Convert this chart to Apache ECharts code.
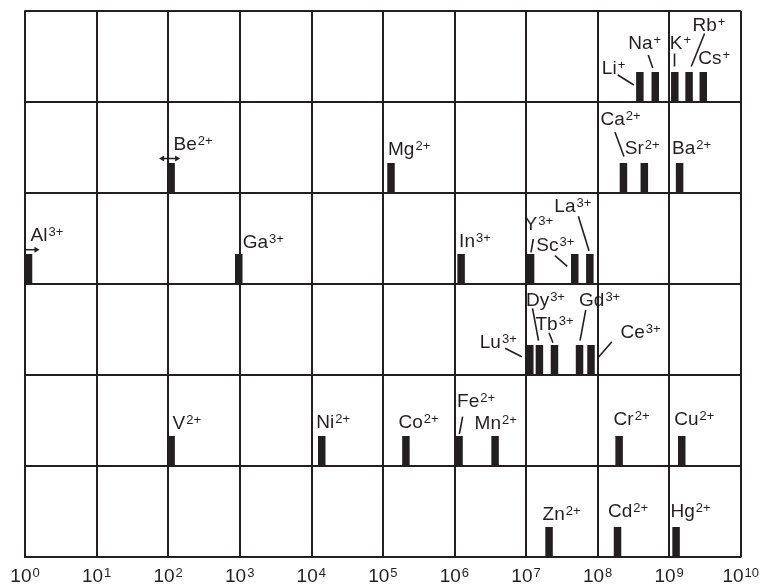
<!DOCTYPE html>
<html>
<head>
<meta charset="utf-8">
<script src="https://cdn.jsdelivr.net/npm/echarts@6/dist/echarts.min.js"></script>
<style>
html,body{margin:0;padding:0;background:#fff;}
#chart{width:762px;height:587px;}
</style>
</head>
<body>
<div id="chart"></div>
<script>
// ---- data ----
const ionNames   = ['Li','Na','K','Rb','Cs',
                    'Be','Mg','Ca','Sr','Ba',
                    'Al','Ga','In','Y','Sc','La',
                    'Lu','Dy','Tb','Gd','Ce',
                    'V','Ni','Co','Fe','Mn','Cr','Cu',
                    'Zn','Cd','Hg'];
const ionCharges = ['+','+','+','+','+',
                    '2+','2+','2+','2+','2+',
                    '3+','3+','3+','3+','3+','3+',
                    '3+','3+','3+','3+','3+',
                    '2+','2+','2+','2+','2+','2+','2+',
                    '2+','2+','2+'];
// water exchange rate constants (s^-1)
const exchangeRates = [3.9e8, 6.4e8, 1.2e9, 1.9e9, 3.0e9,
                       1.1e2, 1.3e5, 2.3e8, 4.5e8, 1.4e9,
                       1.12, 9.7e2, 1.24e6, 1.16e7, 4.8e7, 7.8e7,
                       1.13e7, 1.54e7, 2.5e7, 5.6e7, 8.1e7,
                       1.1e2, 1.4e4, 2.1e5, 1.16e6, 3.7e6, 2.0e8, 1.5e9,
                       2.1e7, 1.9e8, 1.25e9];
// panel row (0 = top)
const ionRows = [0,0,0,0,0,
                 1,1,1,1,1,
                 2,2,2,2,2,2,
                 3,3,3,3,3,
                 4,4,4,4,4,4,4,
                 5,5,5];
const tickExponents = [0,1,2,3,4,5,6,7,8,9,10];
const ROW_COUNT = 6;

// ---- layout / style (not data) ----
const INK = '#231f20';
const FONT = '"Liberation Sans", Arial, Helvetica, sans-serif';
const BAR_W = 7.5, BAR_H = 30;
// label offsets [dx to text left, dy to baseline] relative to bar centre-top
const labelOffset = {
  Li:[-37,3], Na:[-26,-22], K:[-4,-22], Rb:[4.5,-40], Cs:[-4,-7],
  Be:[3.5,-12], Mg:[-2,-6.5], Ca:[-22,-36.5], Sr:[-18.5,-8], Ba:[-6.5,-8],
  Al:[3,-11.5], Ga:[5,-5], In:[-1,-5.5], Y:[-5,-22.5], Sc:[-37.5,-1.5], La:[-34.5,-41],
  Lu:[-49,4], Dy:[-12.5,-37.5], Tb:[-18,-13.5], Gd:[0.5,-37.5], Ce:[30.5,-5.5],
  V:[2.5,-6], Ni:[-4.5,-6.5], Co:[-6.5,-6.5], Fe:[-1,-27.5], Mn:[-19.5,-6], Cr:[-4.5,-10], Cu:[-6.5,-10],
  Zn:[-5.5,-5.5], Cd:[-8.5,-8.5], Hg:[-4.5,-8.5]
};
// leader lines [x1,y1,x2,y2] relative to bar centre-top
const leaderLines = {
  Li:[-22,3,-6,13], Na:[-7,-17,-2.5,-4], K:[-0.3,-18.5,-0.3,-5.5], Rb:[15.5,-38.5,2.2,-5.5],
  Ca:[-8.5,-31,0.5,-6.5],
  Y:[2.7,-15,0.4,-1.7], Sc:[-19.8,1.7,-7.5,12.3], La:[-11.5,-37.7,-0.8,-3.3],
  Lu:[-24.7,3.3,-8,11.7], Dy:[-6.9,-36.7,-0.9,-4.3], Tb:[-5.5,-12.3,-1.5,-2.3],
  Gd:[6.2,-35,0.5,-4.3], Ce:[20.9,-3.3,6.5,13.3],
  Fe:[3.6,-19.3,0.3,-2]
};
// arrows [x1, x2, y, bothEnds] relative to bar centre-top
const arrowMarks = {
  Be:[-12, 9, -4.5, true],
  Al:[-2.5, 11, -4.3, false]
};

const labelRich = {
  m:{fontSize:19, fontFamily:FONT, fill:INK, color:INK, lineHeight:20},
  s:{fontSize:13, fontFamily:FONT, fill:INK, color:INK, lineHeight:14, verticalAlign:'top', padding:[0,0,0,1]}
};

function arrowHead(x, y, dir) {
  return {type:'polygon', shape:{points:[[x,y],[x-dir*5,y-3],[x-dir*5,y+3]]}, style:{fill:INK}};
}

function renderItem(params, api) {
  const i = params.dataIndex;
  const name = ionNames[i];
  const p = api.coord([api.value(0), ROW_COUNT - 1 - api.value(1)]);
  const x = p[0], top = p[1] - BAR_H;
  const children = [{
    type:'rect',
    shape:{x:x - BAR_W/2, y:top, width:BAR_W, height:BAR_H},
    style:{fill:INK}
  }];
  const off = labelOffset[name] || [0,-8];
  children.push({
    type:'text',
    style:{
      x:x + off[0] - 1, y:top + off[1] - 6.5,
      text:'{m|' + name + '}{s|' + ionCharges[i] + '}',
      rich:labelRich, align:'left', verticalAlign:'middle'
    }
  });
  const ld = leaderLines[name];
  if (ld) {
    children.push({type:'line', shape:{x1:x+ld[0], y1:top+ld[1], x2:x+ld[2], y2:top+ld[3]},
                   style:{stroke:INK, lineWidth:1.6}});
  }
  const ar = arrowMarks[name];
  if (ar) {
    const ay = top + ar[2];
    const xa = x + ar[0], xb = x + ar[1];
    children.push({type:'line', shape:{x1:xa + (ar[3]?3:0), y1:ay, x2:xb-3, y2:ay}, style:{stroke:INK, lineWidth:1.5}});
    children.push(arrowHead(xb, ay, 1));
    if (ar[3]) children.push(arrowHead(xa, ay, -1));
  }
  return {type:'group', children};
}

const chart = echarts.init(document.getElementById('chart'), null, {renderer:'canvas'});
chart.setOption({
  animation:false,
  backgroundColor:'#fff',
  grid:{left:25, right:19, top:11, bottom:30, containLabel:false},
  // x is the decade exponent: log10 of the rate
  xAxis:{
    type:'value',
    min:tickExponents[0],
    max:tickExponents[tickExponents.length-1],
    interval:1,
    axisLine:{show:true, lineStyle:{color:INK, width:2}},
    axisTick:{show:false},
    splitLine:{show:true, lineStyle:{color:INK, width:2}},
    axisLabel:{
      show:true, margin:10, showMinLabel:true, showMaxLabel:true,
      formatter:function(v){ return '{m|10}{s|' + Math.round(v) + '}'; },
      rich:{
        m:{fontSize:19, fontFamily:FONT, color:INK, lineHeight:20},
        s:{fontSize:13, fontFamily:FONT, color:INK, lineHeight:14, verticalAlign:'top', padding:[0,0,0,1]}
      }
    }
  },
  yAxis:{
    type:'value', min:0, max:ROW_COUNT, interval:1,
    axisLine:{show:true, lineStyle:{color:INK, width:2}},
    axisTick:{show:false},
    axisLabel:{show:false},
    splitLine:{show:true, lineStyle:{color:INK, width:2}}
  },
  series:[{
    type:'custom',
    renderItem:renderItem,
    clip:false,
    data:exchangeRates.map((r, i) => [Math.log10(r), ionRows[i]])
  }]
});
</script>
</body>
</html>
